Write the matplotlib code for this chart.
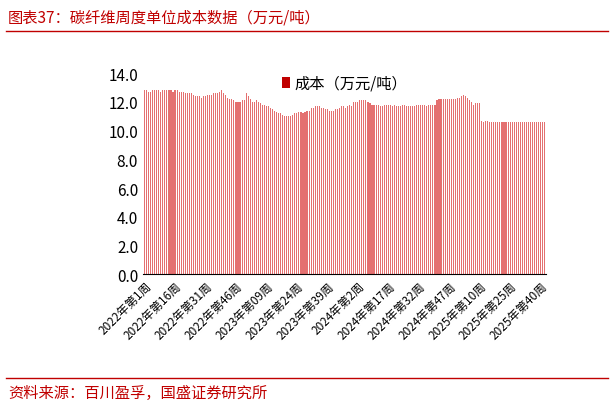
import matplotlib.pyplot as plt
import numpy as np

plt.rcParams['font.family'] = ['Noto Sans CJK SC', 'DejaVu Sans']

cost = [
    12.8, 12.8, 12.7, 12.7, 12.8, 12.8, 12.8, 12.8, 12.7, 12.8, 12.8, 12.8, 12.8, 12.8, 12.7, 12.8,
    12.8, 12.7, 12.7, 12.7, 12.6, 12.6, 12.6, 12.6, 12.5, 12.4, 12.4, 12.4, 12.3, 12.4, 12.4,
    12.5, 12.5, 12.5, 12.6, 12.6, 12.6, 12.7, 12.8, 12.6, 12.5, 12.3, 12.2, 12.2, 12.1, 12.0,
    12.0, 12.0, 12.1, 12.1, 12.6, 12.4, 12.2, 12.0, 12.0, 12.1, 12.0, 11.9, 11.8, 11.8, 11.7,
    11.7, 11.6, 11.5, 11.4, 11.3, 11.2, 11.2, 11.1, 11.0, 11.0, 11.0, 11.0, 11.1, 11.2, 11.2,
    11.3, 11.3, 11.2, 11.3, 11.4, 11.4, 11.6, 11.6, 11.7, 11.7, 11.7, 11.6, 11.6, 11.5, 11.5,
    11.4, 11.4, 11.4, 11.5, 11.5, 11.6, 11.7, 11.7, 11.6, 11.7, 11.8, 11.7, 12.0, 12.0, 12.0,
    12.1, 12.1, 12.1, 12.1, 12.0, 11.9, 11.8, 11.8, 11.8, 11.8, 11.7, 11.7, 11.8, 11.8, 11.8,
    11.8, 11.7, 11.8, 11.7, 11.7, 11.7, 11.8, 11.8, 11.7, 11.7, 11.7, 11.7, 11.7, 11.8, 11.8,
    11.8, 11.8, 11.8, 11.7, 11.8, 11.8, 11.8, 11.8, 12.1, 12.2, 12.2, 12.2, 12.2, 12.2, 12.2,
    12.2, 12.2, 12.2, 12.3, 12.3, 12.4, 12.5, 12.4, 12.3, 12.1, 12.0, 11.8, 11.9, 11.9, 11.9,
    10.7, 10.6, 10.7, 10.7, 10.6, 10.6, 10.6, 10.6, 10.6, 10.6, 10.6, 10.6, 10.6, 10.6, 10.6,
    10.6, 10.6, 10.6, 10.6, 10.6, 10.6, 10.6, 10.6, 10.6, 10.6, 10.6, 10.6, 10.6, 10.6, 10.6,
    10.6, 10.6,
]
tick_labels = ['2022年第1周', '2022年第16周', '2022年第31周', '2022年第46周', '2023年第09周',
               '2023年第24周', '2023年第39周', '2024年第2周', '2024年第17周', '2024年第32周',
               '2024年第47周', '2025年第10周', '2025年第25周', '2025年第40周']

red = '#c00000'
fig = plt.figure(figsize=(6.11, 4.10), dpi=100)
ax = fig.add_axes([0.234, 0.329, 0.66, 0.49])
x = np.arange(len(cost))
ax.bar(x, cost, width=0.55, color='#e47070', linewidth=0, label='成本（万元/吨）')
ax.set_xlim(-0.8, len(cost) - 0.2)
ax.set_ylim(0, 14)
ax.set_yticks(np.arange(0, 14.1, 2))
ax.set_yticklabels([f'{v:.1f}' for v in np.arange(0, 14.1, 2)], fontsize=11)
ax.set_xticks(np.arange(0, len(cost), 15))
ax.set_xticklabels(tick_labels, rotation=45, ha='right', rotation_mode='anchor', fontsize=8.5)
for s in ['top', 'right', 'left']:
    ax.spines[s].set_visible(False)
ax.tick_params(axis='y', length=0)
ax.tick_params(axis='x', length=0)
ax.legend(loc='upper center', bbox_to_anchor=(0.5, 1.06), frameon=False, fontsize=11,
          handlelength=0.5, handletextpad=0.3)
ax.get_legend().legend_handles[0].set_color(red)

fig.text(0.013, 0.955, '图表37：碳纤维周度单位成本数据（万元/吨）', color=red, fontsize=11,
         style='italic', va='center')
fig.add_artist(plt.Line2D([0.01, 0.995], [0.922, 0.922], color=red, lw=1))
fig.add_artist(plt.Line2D([0.01, 0.995], [0.075, 0.075], color=red, lw=1))
fig.text(0.013, 0.04, '资料来源：百川盈孚，国盛证券研究所', color=red, fontsize=11,
         style='italic', va='center')
fig.savefig('out.png')
